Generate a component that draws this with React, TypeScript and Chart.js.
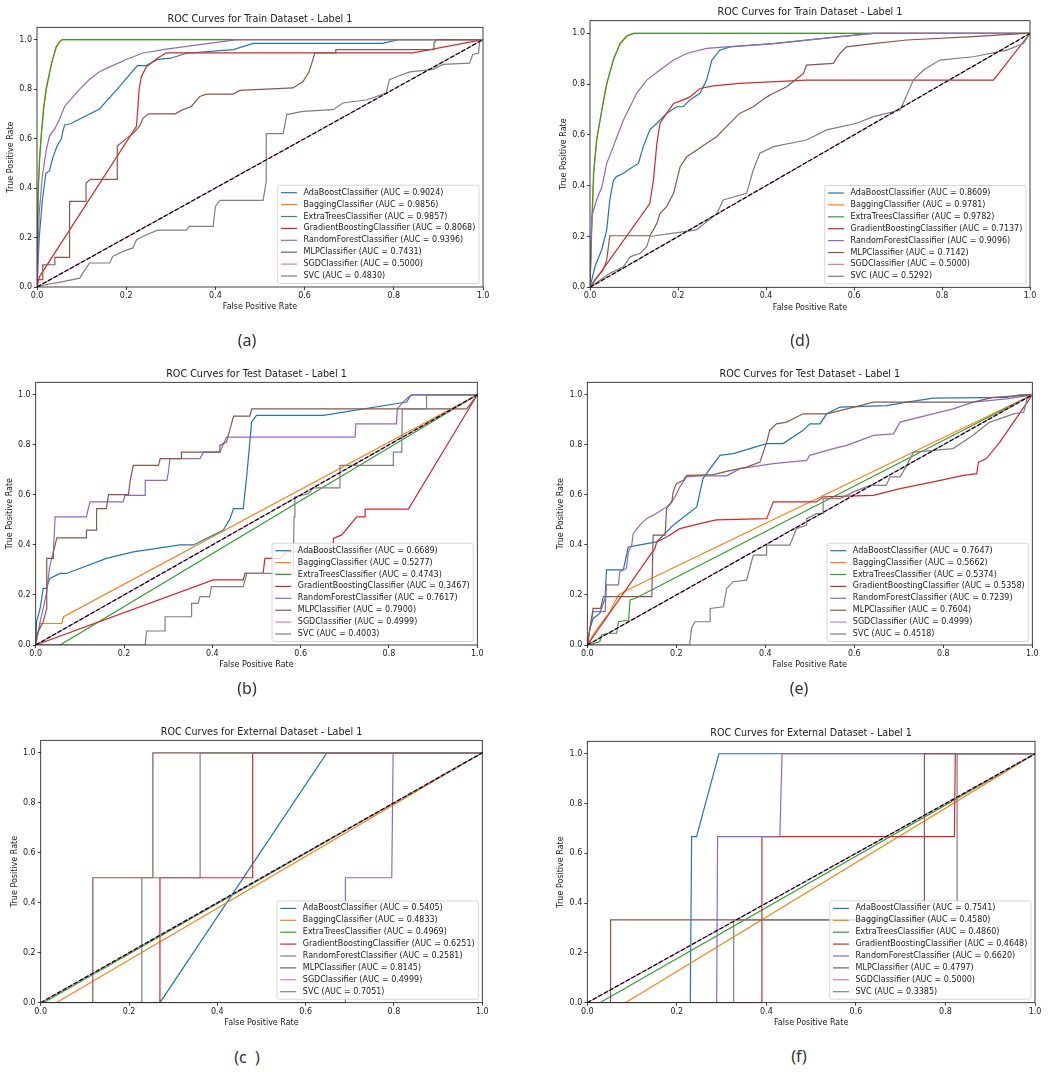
import React, { useEffect, useRef } from "react";
import { Chart, registerables } from "chart.js";

Chart.register(...registerables);

type Pt = [number, number];

const MODELS = [
  "AdaBoostClassifier",
  "BaggingClassifier",
  "ExtraTreesClassifier",
  "GradientBoostingClassifier",
  "RandomForestClassifier",
  "MLPClassifier",
  "SGDClassifier",
  "SVC",
];
const COLORS = ["#1f77b4", "#ff7f0e", "#2ca02c", "#d62728", "#9467bd", "#8c564b", "#e377c2", "#7f7f7f"];

const TITLE_TRAIN = "ROC Curves for Train Dataset - Label 1";
const TITLE_TEST = "ROC Curves for Test Dataset - Label 1";
const TITLE_EXT = "ROC Curves for External Dataset - Label 1";

const TICKS = [0, 0.2, 0.4, 0.6, 0.8, 1.0];

const AUC_A = ["0.9024", "0.9856", "0.9857", "0.8068", "0.9396", "0.7431", "0.5000", "0.4830"];
const AUC_D = ["0.8609", "0.9781", "0.9782", "0.7137", "0.9096", "0.7142", "0.5000", "0.5292"];
const AUC_B = ["0.6689", "0.5277", "0.4743", "0.3467", "0.7617", "0.7900", "0.4999", "0.4003"];
const AUC_E = ["0.7647", "0.5662", "0.5374", "0.5358", "0.7239", "0.7604", "0.4999", "0.4518"];
const AUC_C = ["0.5405", "0.4833", "0.4969", "0.6251", "0.2581", "0.8145", "0.4999", "0.7051"];
const AUC_F = ["0.7541", "0.4580", "0.4860", "0.4648", "0.6620", "0.4797", "0.5000", "0.3385"];

const CHANCE: Pt[] = [[0, 0], [1, 1]];
const SGD_LINE: Pt[] = [[0, 0], [1, 1]];

// ---------- (a) Train, left ----------
const A_ADA: Pt[] = [[0,0],[0.005,0.2],[0.012,0.35],[0.02,0.46],[0.028,0.47],[0.035,0.52],[0.045,0.57],[0.055,0.6],[0.058,0.63],[0.062,0.655],[0.075,0.66],[0.14,0.72],[0.18,0.8],[0.225,0.895],[0.245,0.895],[0.27,0.92],[0.3,0.925],[0.335,0.945],[0.44,0.96],[0.485,0.985],[0.775,0.985],[0.81,1],[1,1]];
const A_BAG: Pt[] = [[0,0],[0.001,0.21],[0.003,0.41],[0.006,0.53],[0.01,0.63],[0.015,0.73],[0.021,0.81],[0.032,0.9],[0.043,0.97],[0.05,0.99],[0.057,1],[1,1]];
const A_ET: Pt[] = [[0,0],[0.001,0.2],[0.003,0.4],[0.006,0.52],[0.01,0.62],[0.015,0.72],[0.021,0.8],[0.032,0.9],[0.043,0.97],[0.05,0.99],[0.056,1],[1,1]];
const A_GB: Pt[] = [[0,0],[0.005,0.04],[0.223,0.65],[0.226,0.72],[0.229,0.8],[0.234,0.85],[0.245,0.89],[0.27,0.925],[0.29,0.947],[0.843,0.947],[1,1]];
const A_RF: Pt[] = [[0,0],[0.005,0.3],[0.012,0.45],[0.021,0.555],[0.028,0.61],[0.04,0.64],[0.05,0.676],[0.062,0.73],[0.081,0.77],[0.096,0.8],[0.118,0.84],[0.14,0.87],[0.163,0.89],[0.2,0.92],[0.238,0.946],[0.29,0.962],[0.365,0.98],[0.45,1],[1,1]];
const A_MLP: Pt[] = [[0,0],[0,0.03],[0.013,0.03],[0.013,0.09],[0.04,0.09],[0.04,0.12],[0.073,0.12],[0.073,0.346],[0.11,0.346],[0.11,0.42],[0.12,0.435],[0.18,0.435],[0.18,0.57],[0.2,0.6],[0.215,0.62],[0.23,0.65],[0.238,0.683],[0.25,0.7],[0.31,0.7],[0.327,0.717],[0.346,0.73],[0.365,0.77],[0.38,0.78],[0.44,0.78],[0.455,0.795],[0.514,0.8],[0.574,0.805],[0.596,0.83],[0.61,0.87],[0.623,0.946],[0.67,0.946],[0.67,0.96],[0.89,0.96],[0.89,0.985],[0.895,1],[1,1]];
const A_SVC: Pt[] = [[0,0],[0.028,0.013],[0.05,0.019],[0.096,0.036],[0.103,0.057],[0.118,0.097],[0.163,0.097],[0.17,0.124],[0.193,0.144],[0.215,0.158],[0.223,0.19],[0.238,0.205],[0.27,0.23],[0.335,0.23],[0.342,0.245],[0.395,0.245],[0.4,0.326],[0.41,0.35],[0.507,0.35],[0.514,0.427],[0.514,0.62],[0.552,0.62],[0.56,0.697],[0.596,0.71],[0.664,0.717],[0.686,0.744],[0.74,0.757],[0.783,0.784],[0.79,0.838],[0.806,0.85],[0.836,0.87],[0.888,0.88],[0.91,0.9],[0.97,0.905],[0.977,0.94],[0.99,0.946],[0.993,1],[1,1]];

// ---------- (d) Train, right ----------
const D_ADA: Pt[] = [[0,0],[0.011,0.08],[0.027,0.15],[0.038,0.226],[0.045,0.344],[0.053,0.42],[0.06,0.436],[0.076,0.449],[0.098,0.475],[0.11,0.488],[0.121,0.554],[0.136,0.62],[0.152,0.646],[0.174,0.685],[0.197,0.711],[0.212,0.711],[0.227,0.738],[0.25,0.764],[0.265,0.816],[0.277,0.895],[0.295,0.934],[0.318,0.947],[0.417,0.96],[0.568,0.987],[0.644,1],[1,1]];
const D_BAG: Pt[] = [[0,0],[0.004,0.22],[0.009,0.46],[0.016,0.59],[0.028,0.71],[0.039,0.81],[0.054,0.9],[0.069,0.96],[0.085,0.99],[0.1,1],[1,1]];
const D_ET: Pt[] = [[0,0],[0.003,0.2],[0.008,0.45],[0.015,0.58],[0.027,0.7],[0.038,0.8],[0.053,0.895],[0.068,0.96],[0.083,0.99],[0.098,1],[1,1]];
const D_GB: Pt[] = [[0,0],[0.136,0.33],[0.144,0.42],[0.152,0.567],[0.159,0.646],[0.174,0.685],[0.19,0.724],[0.212,0.738],[0.227,0.75],[0.25,0.783],[0.28,0.793],[0.34,0.803],[0.492,0.816],[0.917,0.816],[1,1]];
const D_RF: Pt[] = [[0,0],[0.004,0.28],[0.015,0.344],[0.027,0.396],[0.038,0.488],[0.053,0.554],[0.064,0.606],[0.076,0.659],[0.091,0.711],[0.106,0.764],[0.129,0.816],[0.159,0.856],[0.19,0.895],[0.22,0.921],[0.265,0.941],[0.31,0.947],[0.417,0.96],[0.568,0.987],[0.644,1],[1,1]];
const D_MLP: Pt[] = [[0,0],[0.011,0.029],[0.03,0.068],[0.038,0.108],[0.045,0.203],[0.136,0.203],[0.144,0.226],[0.152,0.252],[0.159,0.29],[0.174,0.318],[0.19,0.37],[0.197,0.42],[0.205,0.475],[0.22,0.514],[0.242,0.54],[0.265,0.567],[0.288,0.593],[0.31,0.633],[0.34,0.685],[0.371,0.711],[0.402,0.75],[0.417,0.764],[0.447,0.79],[0.485,0.842],[0.492,0.875],[0.553,0.882],[0.568,0.921],[0.583,0.947],[0.644,0.96],[0.72,0.974],[0.87,0.987],[0.99,1],[1,1]];
const D_SVC: Pt[] = [[0,0],[0.023,0.029],[0.045,0.055],[0.076,0.081],[0.091,0.12],[0.114,0.134],[0.129,0.16],[0.136,0.2],[0.19,0.213],[0.242,0.226],[0.288,0.29],[0.303,0.344],[0.356,0.37],[0.371,0.462],[0.386,0.528],[0.417,0.554],[0.492,0.58],[0.538,0.62],[0.606,0.646],[0.644,0.672],[0.705,0.698],[0.735,0.816],[0.758,0.856],[0.795,0.895],[0.871,0.908],[0.947,0.934],[0.985,0.96],[1,1]];

// ---------- (b) Test, left ----------
const B_ADA: Pt[] = [[0,0],[0.002,0.093],[0.01,0.146],[0.017,0.226],[0.025,0.226],[0.029,0.253],[0.032,0.266],[0.055,0.286],[0.07,0.286],[0.16,0.346],[0.221,0.372],[0.327,0.4],[0.357,0.4],[0.425,0.459],[0.44,0.505],[0.448,0.545],[0.47,0.545],[0.478,0.678],[0.489,0.891],[0.5,0.918],[0.651,0.918],[0.84,0.971],[0.849,0.997],[0.855,1],[1,1]];
const B_BAG: Pt[] = [[0,0],[0.01,0.086],[0.059,0.086],[0.063,0.113],[1,1]];
const B_ET: Pt[] = [[0,0],[0.055,0],[1,1]];
const B_GB: Pt[] = [[0,0],[0.402,0.26],[0.47,0.26],[0.474,0.286],[0.515,0.286],[0.519,0.346],[0.553,0.346],[0.568,0.372],[0.674,0.372],[0.674,0.426],[0.693,0.44],[0.727,0.512],[0.746,0.512],[0.746,0.543],[0.844,0.543],[1,1]];
const B_RF: Pt[] = [[0,0],[0.01,0.093],[0.017,0.146],[0.025,0.213],[0.031,0.306],[0.036,0.346],[0.04,0.372],[0.044,0.512],[0.115,0.512],[0.119,0.545],[0.123,0.572],[0.198,0.572],[0.202,0.598],[0.248,0.598],[0.248,0.658],[0.297,0.658],[0.3,0.685],[0.304,0.745],[0.372,0.745],[0.38,0.771],[0.417,0.771],[0.432,0.831],[0.723,0.831],[0.725,0.884],[0.817,0.884],[0.819,0.944],[0.832,0.971],[0.84,0.984],[0.85,1],[1,1]];
const B_MLP: Pt[] = [[0,0],[0.002,0.04],[0.017,0.093],[0.025,0.146],[0.025,0.346],[0.04,0.346],[0.04,0.372],[0.048,0.428],[0.115,0.428],[0.115,0.459],[0.138,0.459],[0.138,0.545],[0.16,0.545],[0.165,0.601],[0.21,0.601],[0.214,0.658],[0.221,0.718],[0.278,0.718],[0.282,0.745],[0.33,0.745],[0.33,0.771],[0.417,0.771],[0.417,0.798],[0.432,0.811],[0.44,0.862],[0.448,0.915],[0.485,0.915],[0.489,0.944],[0.976,0.944],[1,1]];
const B_SVC: Pt[] = [[0,0],[0.248,0],[0.251,0.056],[0.293,0.056],[0.293,0.113],[0.353,0.113],[0.353,0.166],[0.368,0.166],[0.372,0.193],[0.394,0.193],[0.398,0.233],[0.47,0.233],[0.478,0.286],[0.583,0.286],[0.585,0.512],[0.587,0.592],[0.617,0.605],[0.629,0.628],[0.689,0.628],[0.689,0.718],[0.81,0.718],[0.81,0.771],[0.829,0.771],[0.83,0.944],[0.885,0.944],[0.885,1],[1,1]];

// ---------- (e) Test, right ----------
const E_ADA: Pt[] = [[0,0],[0.006,0.066],[0.013,0.106],[0.028,0.126],[0.04,0.186],[0.043,0.3],[0.081,0.3],[0.088,0.359],[0.092,0.392],[0.118,0.4],[0.156,0.412],[0.193,0.479],[0.246,0.552],[0.26,0.665],[0.268,0.685],[0.298,0.758],[0.328,0.765],[0.403,0.805],[0.44,0.805],[0.485,0.858],[0.5,0.884],[0.523,0.884],[0.538,0.924],[0.568,0.951],[0.673,0.957],[0.718,0.971],[0.778,0.987],[0.942,0.99],[0.972,1],[1,1]];
const E_BAG: Pt[] = [[0,0],[0.02,0.06],[0.05,0.13],[0.07,0.2],[0.09,0.22],[1,1]];
const E_ET: Pt[] = [[0,0],[0.028,0.013],[0.032,0.04],[0.05,0.047],[0.066,0.047],[0.07,0.093],[0.093,0.1],[0.096,0.18],[0.107,0.186],[1,1]];
const E_GB: Pt[] = [[0,0],[0.141,0.359],[0.152,0.386],[0.156,0.412],[0.178,0.432],[0.208,0.465],[0.253,0.485],[0.29,0.5],[0.403,0.505],[0.418,0.572],[0.515,0.572],[0.53,0.592],[0.643,0.598],[0.703,0.625],[0.778,0.652],[0.845,0.678],[0.875,0.685],[0.879,0.731],[0.897,0.745],[0.927,0.811],[1,1]];
const E_RF: Pt[] = [[0,0],[0.006,0.066],[0.013,0.133],[0.04,0.133],[0.043,0.24],[0.07,0.24],[0.073,0.293],[0.088,0.306],[0.092,0.372],[0.1,0.4],[0.103,0.445],[0.118,0.479],[0.133,0.505],[0.148,0.519],[0.163,0.535],[0.178,0.552],[0.186,0.565],[0.197,0.592],[0.208,0.632],[0.223,0.672],[0.253,0.676],[0.313,0.676],[0.343,0.705],[0.418,0.725],[0.493,0.738],[0.5,0.758],[0.553,0.785],[0.583,0.798],[0.643,0.838],[0.688,0.844],[0.703,0.891],[0.763,0.918],[0.822,0.944],[0.867,0.971],[0.942,0.984],[1,1]];
const E_MLP: Pt[] = [[0,0],[0.006,0.066],[0.013,0.146],[0.03,0.146],[0.036,0.193],[0.145,0.193],[0.148,0.439],[0.175,0.439],[0.178,0.545],[0.19,0.572],[0.193,0.612],[0.2,0.645],[0.216,0.658],[0.223,0.678],[0.283,0.681],[0.313,0.694],[0.358,0.711],[0.388,0.731],[0.403,0.811],[0.41,0.858],[0.425,0.884],[0.448,0.891],[0.485,0.924],[0.538,0.924],[0.613,0.957],[0.643,0.971],[0.867,0.971],[0.912,0.99],[0.972,0.997],[1,1]];
const E_SVC: Pt[] = [[0,0],[0.23,0],[0.234,0.066],[0.242,0.093],[0.276,0.093],[0.276,0.146],[0.306,0.153],[0.313,0.226],[0.328,0.253],[0.358,0.259],[0.373,0.359],[0.403,0.359],[0.403,0.399],[0.455,0.399],[0.47,0.465],[0.493,0.479],[0.493,0.505],[0.515,0.525],[0.53,0.525],[0.53,0.585],[0.568,0.585],[0.598,0.612],[0.635,0.638],[0.672,0.638],[0.68,0.672],[0.703,0.672],[0.718,0.718],[0.733,0.771],[0.778,0.778],[0.822,0.785],[0.867,0.838],[0.89,0.871],[0.905,0.891],[0.958,0.924],[0.981,0.931],[0.988,0.984],[1,1]];

// ---------- (c) External, left ----------
const C_ADA: Pt[] = [[0,0],[0.27,0],[0.648,1],[1,1]];
const C_BAG: Pt[] = [[0,0],[0.035,0],[1,1]];
const C_ET: Pt[] = [[0,0],[0.006,0],[1,1]];
const C_GB: Pt[] = [[0,0],[0.27,0],[0.27,0.5],[0.48,0.5],[0.48,1],[1,1]];
const C_RF: Pt[] = [[0,0],[0.69,0],[0.69,0.5],[0.795,0.5],[0.798,1],[1,1]];
const C_MLP: Pt[] = [[0,0],[0.118,0],[0.118,0.5],[0.254,0.5],[0.254,1],[1,1]];
const C_SVC: Pt[] = [[0,0],[0.229,0],[0.229,0.5],[0.361,0.5],[0.361,1],[1,1]];

// ---------- (f) External, right ----------
const F_ADA: Pt[] = [[0,0],[0.23,0],[0.233,0.667],[0.244,0.667],[0.294,1],[1,1]];
const F_BAG: Pt[] = [[0,0],[0.085,0],[1,1]];
const F_ET: Pt[] = [[0,0],[0.028,0],[1,1]];
const F_GB: Pt[] = [[0,0],[0.388,0],[0.39,0.667],[0.82,0.667],[0.822,1],[1,1]];
const F_RF: Pt[] = [[0,0],[0.289,0],[0.291,0.667],[0.43,0.667],[0.435,1],[1,1]];
const F_MLP: Pt[] = [[0,0],[0.052,0],[0.052,0.333],[0.753,0.333],[0.753,1],[1,1]];
const F_SVC: Pt[] = [[0,0],[0.327,0],[0.327,0.333],[0.826,0.333],[0.826,1],[1,1]];

const FONT = "'DejaVu Sans', 'Liberation Sans', sans-serif";
const TEXT = "#222";
const Y_AXIS_W = 31;
const X_AXIS_H = 25;
const TITLE_SIZE = 9.6;
const TITLE_PAD_B = 2.5;
const TITLE_H = TITLE_SIZE * 1.2 + TITLE_PAD_B;

type PanelCfg = {
  key: string;
  title: string;
  caption: string;
  curves: Pt[][];
  auc: string[];
  box: [number, number, number, number]; // canvas left, top, width, height
  area: [number, number, number, number]; // plot left, top, right, bottom
  cap: [number, number];
};

const PANELS: PanelCfg[] = [
  { key: "a", title: TITLE_TRAIN, caption: "(a)", curves: [A_ADA, A_BAG, A_ET, A_GB, A_RF, A_MLP, SGD_LINE, A_SVC], auc: AUC_A, box: [0, 0, 520, 330], area: [37, 27.3, 483, 287], cap: [247, 340] },
  { key: "d", title: TITLE_TRAIN, caption: "(d)", curves: [D_ADA, D_BAG, D_ET, D_GB, D_RF, D_MLP, SGD_LINE, D_SVC], auc: AUC_D, box: [530, 0, 522, 330], area: [590, 20.7, 1030, 287.3], cap: [800, 340] },
  { key: "b", title: TITLE_TEST, caption: "(b)", curves: [B_ADA, B_BAG, B_ET, B_GB, B_RF, B_MLP, SGD_LINE, B_SVC], auc: AUC_B, box: [0, 350, 520, 330], area: [35.7, 382.3, 477.3, 645], cap: [247, 688] },
  { key: "e", title: TITLE_TEST, caption: "(e)", curves: [E_ADA, E_BAG, E_ET, E_GB, E_RF, E_MLP, SGD_LINE, E_SVC], auc: AUC_E, box: [530, 350, 522, 330], area: [587.3, 382.3, 1032.3, 645], cap: [799, 688] },
  { key: "c", title: TITLE_EXT, caption: "(c\u00a0\u00a0)", curves: [C_ADA, C_BAG, C_ET, C_GB, C_RF, C_MLP, SGD_LINE, C_SVC], auc: AUC_C, box: [0, 715, 520, 330], area: [40.7, 740.3, 482.3, 1002.7], cap: [247, 1057] },
  { key: "f", title: TITLE_EXT, caption: "(f)", curves: [F_ADA, F_BAG, F_ET, F_GB, F_RF, F_MLP, SGD_LINE, F_SVC], auc: AUC_F, box: [530, 715, 522, 330], area: [587.3, 741.3, 1035, 1002.7], cap: [799, 1056] },
];

const framePlugin = {
  id: "frame",
  afterDatasetsDraw(chart: any) {
    const { ctx, chartArea } = chart;
    const { left, top, right, bottom } = chartArea;
    ctx.save();
    ctx.strokeStyle = "#111";
    ctx.lineWidth = 0.8;
    ctx.strokeRect(left, top, right - left, bottom - top);
    ctx.restore();
  },
};

const legendPlugin = {
  id: "rocLegend",
  afterDraw(chart: any, _args: any, opts: any) {
    const { ctx, chartArea } = chart;
    const labels: string[] = opts.labels || [];
    const colors: string[] = opts.colors || [];
    ctx.save();
    ctx.font = `8px ${FONT}`;
    const tw = Math.max(...labels.map((l) => ctx.measureText(l).width));
    const pad = 3.2;
    const handle = 16;
    const gap = 6.6;
    const pitch = 11.9;
    const w = pad + handle + gap + tw + pad + 0.5;
    const h = pad * 2 + pitch * (labels.length - 1) + 8.6;
    const x = chartArea.right - 4 - w;
    const y = chartArea.bottom - 3.5 - h;
    ctx.beginPath();
    if (ctx.roundRect) ctx.roundRect(x, y, w, h, 2);
    else ctx.rect(x, y, w, h);
    ctx.fillStyle = "rgba(255,255,255,0.8)";
    ctx.fill();
    ctx.strokeStyle = "#cccccc";
    ctx.lineWidth = 0.8;
    ctx.stroke();
    labels.forEach((l, i) => {
      const cy = y + pad + 4.3 + i * pitch;
      ctx.beginPath();
      ctx.moveTo(x + pad, cy);
      ctx.lineTo(x + pad + handle, cy);
      ctx.strokeStyle = colors[i];
      ctx.lineWidth = 1.2;
      ctx.stroke();
      ctx.fillStyle = TEXT;
      ctx.textBaseline = "middle";
      ctx.textAlign = "left";
      ctx.fillText(l, x + pad + handle + gap, cy);
    });
    ctx.restore();
  },
};

function Panel({ cfg }: { cfg: PanelCfg }) {
  const ref = useRef<HTMLCanvasElement | null>(null);
  useEffect(() => {
    if (!ref.current) return;
    const [cx, cy, cw, ch] = cfg.box;
    const [L, T, R, B] = cfg.area;
    const padding = {
      left: L - cx - Y_AXIS_W,
      top: T - cy - TITLE_H,
      right: cx + cw - R,
      bottom: cy + ch - B - X_AXIS_H,
    };
    const toXY = (pts: Pt[]) => pts.map(([x, y]) => ({ x, y }));
    const curveSets = cfg.curves.map((pts, i) => ({
      label: MODELS[i],
      data: toXY(pts),
      borderColor: COLORS[i],
      backgroundColor: COLORS[i],
      borderWidth: 1.2,
      showLine: true,
      pointRadius: 0,
      fill: false,
      tension: 0,
    }));
    const diag = {
      label: "chance",
      data: toXY(CHANCE),
      borderColor: "#000",
      backgroundColor: "#000",
      borderWidth: 1.2,
      borderDash: [4.4, 1.9],
      showLine: true,
      pointRadius: 0,
      fill: false,
      tension: 0,
    };
    // Chart.js paints dataset 0 last (on top): reverse so later models sit above earlier ones, chance line on top.
    const datasets = [diag, ...curveSets.slice().reverse()];
    const tickFont = { family: FONT, size: 8 };
    const chart = new Chart(ref.current, {
      type: "scatter",
      data: { datasets } as any,
      options: {
        responsive: false,
        animation: false,
        events: [],
        layout: { padding },
        plugins: {
          legend: { display: false },
          tooltip: { enabled: false },
          title: {
            display: true,
            fullSize: false,
            text: cfg.title,
            color: TEXT,
            font: { family: FONT, size: TITLE_SIZE, weight: "normal" as any, lineHeight: 1.2 },
            padding: { top: 0, bottom: TITLE_PAD_B },
          },
          rocLegend: {
            labels: MODELS.map((m, i) => `${m} (AUC = ${cfg.auc[i]})`),
            colors: COLORS,
          },
        } as any,
        scales: {
          x: {
            type: "linear",
            min: 0,
            max: 1,
            afterFit: (s: any) => {
              s.height = X_AXIS_H;
            },
            afterBuildTicks: (s: any) => {
              s.ticks = TICKS.map((v) => ({ value: v }));
            },
            ticks: {
              callback: (v: any) => Number(v).toFixed(1),
              font: tickFont,
              color: TEXT,
              padding: 1,
              maxRotation: 0,
              autoSkip: false,
            },
            grid: { drawOnChartArea: false, drawTicks: true, tickLength: 3, tickColor: "#111", tickWidth: 0.8 } as any,
            border: { display: false },
            title: { display: true, text: "False Positive Rate", color: TEXT, font: { family: FONT, size: 8 }, padding: { top: 0, bottom: 0 } },
          },
          y: {
            type: "linear",
            min: 0,
            max: 1.05,
            afterFit: (s: any) => {
              s.width = Y_AXIS_W;
            },
            afterBuildTicks: (s: any) => {
              s.ticks = TICKS.map((v) => ({ value: v }));
            },
            ticks: {
              callback: (v: any) => Number(v).toFixed(1),
              font: tickFont,
              color: TEXT,
              padding: 2,
              autoSkip: false,
            },
            grid: { drawOnChartArea: false, drawTicks: true, tickLength: 3, tickColor: "#111", tickWidth: 0.8 } as any,
            border: { display: false },
            title: { display: true, text: "True Positive Rate", color: TEXT, font: { family: FONT, size: 8 }, padding: { top: 0, bottom: 0 } },
          },
        },
      },
      plugins: [framePlugin, legendPlugin],
    } as any);
    return () => chart.destroy();
  }, [cfg]);
  const [cx, cy, cw, ch] = cfg.box;
  return (
    <>
      <canvas
        ref={ref}
        width={cw}
        height={ch}
        style={{ position: "absolute", left: cx, top: cy, width: cw, height: ch }}
      />
      <div
        style={{
          position: "absolute",
          left: cfg.cap[0] - 40,
          top: cfg.cap[1] - 11,
          width: 80,
          height: 22,
          lineHeight: "22px",
          textAlign: "center",
          fontFamily: "'Noto Sans', 'DejaVu Sans', sans-serif",
          fontSize: 16,
          color: "#333",
        }}
      >
        {cfg.caption}
      </div>
    </>
  );
}

export default function App() {
  return (
    <div
      style={{
        position: "absolute",
        left: 0,
        top: 0,
        width: 1052,
        height: 1072,
        background: "#fff",
        overflow: "hidden",
      }}
    >
      {PANELS.map((p) => (
        <Panel key={p.key} cfg={p} />
      ))}
    </div>
  );
}
